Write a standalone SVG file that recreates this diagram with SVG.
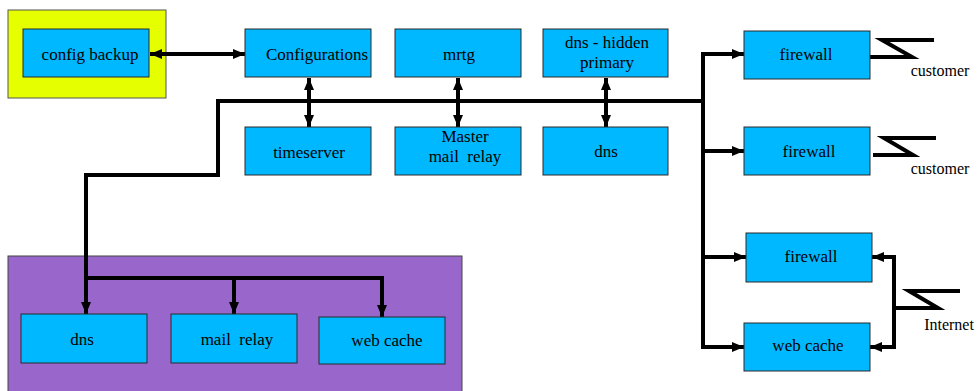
<svg xmlns="http://www.w3.org/2000/svg" width="980" height="391" viewBox="0 0 980 391">
  <style>
    .box { fill: #00B8FF; stroke: #2a2a2a; stroke-width: 1; }
    text { font-family: "Times New Roman", Times, "Liberation Serif", Tinos, "Nimbus Roman", "Noto Serif", "DejaVu Serif", serif; fill: #000; text-anchor: middle; }
    .lbl { font-size: 17px; }
    .tag { font-size: 16px; }
    .wire { fill: none; stroke: #000; stroke-width: 4; stroke-linejoin: miter; }
    .link { fill: none; stroke: #000; stroke-width: 4; }
  </style>
  <defs>
    <marker id="head" viewBox="0 0 12 10" refX="12" refY="5" markerWidth="12" markerHeight="10" markerUnits="userSpaceOnUse" orient="auto-start-reverse">
      <path d="M0,0 L12,5 L0,10 z" fill="#000"/>
    </marker>
  </defs>

  <!-- zone backgrounds -->
  <rect id="backup-zone" x="8" y="10" width="158" height="88" fill="#E6FF00" stroke="#555" stroke-width="1"/>
  <rect id="dmz-zone" x="8" y="256" width="454" height="140" fill="#9966CC" stroke="#444" stroke-width="1"/>

  <!-- connectors -->
  <g id="connectors">
    <line class="wire" x1="150" y1="54" x2="245" y2="54" marker-start="url(#head)" marker-end="url(#head)"/>
    <line class="wire" x1="309" y1="78" x2="309" y2="127" marker-start="url(#head)" marker-end="url(#head)"/>
    <line class="wire" x1="458" y1="78" x2="458" y2="127" marker-start="url(#head)" marker-end="url(#head)"/>
    <line class="wire" x1="606" y1="78" x2="606" y2="127" marker-start="url(#head)" marker-end="url(#head)"/>
    <!-- backbone -->
    <polyline class="wire" points="705,101 218,101 218,175 86,175 86,278"/>
    <!-- right riser -->
    <line class="wire" x1="703" y1="52" x2="703" y2="349"/>
    <line class="wire" x1="703" y1="54" x2="744" y2="54" marker-end="url(#head)"/>
    <line class="wire" x1="703" y1="151" x2="744" y2="151" marker-end="url(#head)"/>
    <line class="wire" x1="703" y1="257" x2="746" y2="257" marker-end="url(#head)"/>
    <line class="wire" x1="703" y1="347" x2="744" y2="347" marker-end="url(#head)"/>
    <!-- internet feed -->
    <polyline class="wire" points="882,257 894,257 894,347 880,347"/>
    <line class="wire" x1="894" y1="257" x2="872" y2="257" marker-end="url(#head)"/>
    <line class="wire" x1="894" y1="347" x2="870" y2="347" marker-end="url(#head)"/>
    <!-- lower branch -->
    <polyline class="wire" points="86,278 382,278"/>
    <line class="wire" x1="86" y1="276" x2="86" y2="314" marker-end="url(#head)"/>
    <line class="wire" x1="234" y1="276" x2="234" y2="314" marker-end="url(#head)"/>
    <line class="wire" x1="382" y1="276" x2="382" y2="317" marker-end="url(#head)"/>
    <!-- line symbols -->
    <polyline class="link" points="870,57 912,57 882,40 934,40"/>
    <polyline class="link" points="873,155 913,155 884,138 936,138"/>
    <polyline class="link" points="894,308 938,308 909,291 960,291"/>
  </g>

  <g id="config-backup">
    <rect class="box" x="23" y="29" width="126" height="48"/>
    <text class="lbl" x="90" y="60">config backup</text>
  </g>
  <g id="configurations">
    <rect class="box" x="245" y="29" width="126" height="48"/>
    <text class="lbl" x="317" y="60">Configurations</text>
  </g>
  <g id="timeserver">
    <rect class="box" x="245" y="127" width="126" height="48"/>
    <text class="lbl" x="309" y="158">timeserver</text>
  </g>
  <g id="mrtg">
    <rect class="box" x="395" y="29" width="126" height="48"/>
    <text class="lbl" x="459" y="60">mrtg</text>
  </g>
  <g id="master-mail-relay">
    <rect class="box" x="395" y="127" width="126" height="48"/>
    <text class="lbl" x="465" y="142">Master</text>
    <text class="lbl" x="465" y="162" xml:space="preserve">mail  relay</text>
  </g>
  <g id="dns-hidden-primary">
    <rect class="box" x="543" y="29" width="125" height="48"/>
    <text class="lbl" x="607" y="48">dns - hidden</text>
    <text class="lbl" x="607" y="68">primary</text>
  </g>
  <g id="dns-secondary">
    <rect class="box" x="543" y="127" width="125" height="48"/>
    <text class="lbl" x="606" y="157">dns</text>
  </g>
  <g id="firewall-1">
    <rect class="box" x="744" y="31" width="126" height="48"/>
    <text class="lbl" x="806" y="60">firewall</text>
  </g>
  <g id="firewall-2">
    <rect class="box" x="744" y="127" width="126" height="48"/>
    <text class="lbl" x="809" y="157">firewall</text>
  </g>
  <g id="firewall-3">
    <rect class="box" x="746" y="233" width="126" height="49"/>
    <text class="lbl" x="811" y="262">firewall</text>
  </g>
  <g id="web-cache-edge">
    <rect class="box" x="744" y="323" width="126" height="48"/>
    <text class="lbl" x="808" y="351">web cache</text>
  </g>
  <g id="dns-dmz">
    <rect class="box" x="21" y="314" width="126" height="49"/>
    <text class="lbl" x="82" y="345">dns</text>
  </g>
  <g id="mail-relay">
    <rect class="box" x="171" y="314" width="126" height="49"/>
    <text class="lbl" x="237" y="345" xml:space="preserve">mail  relay</text>
  </g>
  <g id="web-cache-dmz">
    <rect class="box" x="319" y="317" width="126" height="47"/>
    <text class="lbl" x="387" y="346">web cache</text>
  </g>

  <g id="link-labels">
    <text class="tag" x="940" y="76">customer</text>
    <text class="tag" x="940" y="174">customer</text>
    <text class="tag" x="949" y="330">Internet</text>
  </g>
</svg>
